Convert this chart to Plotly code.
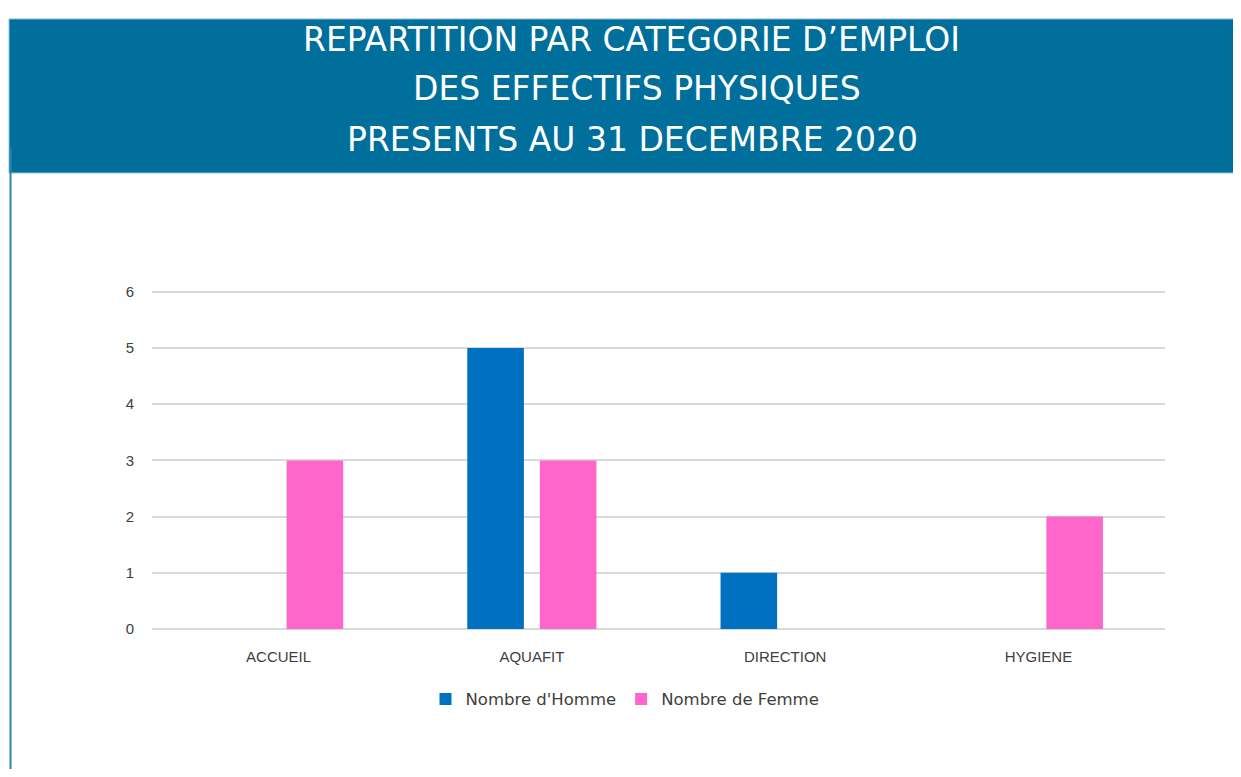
import plotly.graph_objects as go

categories = ["ACCUEIL", "AQUAFIT", "DIRECTION", "HYGIENE"]
hommes = [0, 5, 1, 0]
femmes = [3, 3, 0, 2]
title_lines = ["REPARTITION PAR CATEGORIE D\u2019EMPLOI",
               "DES EFFECTIFS PHYSIQUES",
               "PRESENTS AU 31 DECEMBRE 2020"]
y_ticks = [0, 1, 2, 3, 4, 5, 6]

# the page body has an 8px margin; size the figure so the page does not overflow
M = 8
W, H = 1241 - 2 * M, 777 - 2 * M

fig = go.Figure()
fig.add_trace(go.Bar(x=categories, y=hommes, name="Nombre d'Homme",
                     marker=dict(color="#0070c0", line=dict(width=0))))
fig.add_trace(go.Bar(x=categories, y=femmes, name="Nombre de Femme",
                     marker=dict(color="#ff66cc", line=dict(width=0))))


def px_x(v):
    return (v - M) / W


def px_y(v):
    return 1 - (v - M) / H


shapes = [
    dict(type="rect", xref="paper", yref="paper",
         x0=px_x(9), x1=1.02, y0=px_y(170), y1=px_y(13),
         fillcolor="#006f9b", line=dict(color="#9cc3d6", width=1), layer="below"),
    dict(type="line", xref="paper", yref="paper",
         x0=px_x(10.5), x1=px_x(10.5), y0=-0.02, y1=px_y(145),
         line=dict(color="#2a86b0", width=2)),
]

annotations = []
for t, cx, cy in zip(title_lines, [631, 637, 632], [34, 84, 135.5]):
    annotations.append(dict(
        text=t, xref="paper", yref="paper",
        x=px_x(cx), y=px_y(cy), xanchor="center", yanchor="middle",
        showarrow=False,
        font=dict(family="DejaVu Sans", size=33, color="#ffffff")))

y0_px, y6_px = 634.5, 291
unit = (y0_px - y6_px) / 6
ytop = 6.05
fig.update_layout(
    width=W, height=H,
    margin=dict(l=0, r=0, t=0, b=0),
    paper_bgcolor="#ffffff",
    plot_bgcolor="#ffffff",
    barmode="group",
    bargap=0.427,
    bargroupgap=0.22,
    shapes=shapes,
    annotations=annotations,
    showlegend=True,
    legend=dict(orientation="h", x=px_x(625), xanchor="center",
                y=px_y(706), yanchor="middle",
                font=dict(family="DejaVu Sans", size=16.5, color="#404040"),
                itemwidth=30, traceorder="normal"),
    xaxis=dict(domain=[px_x(152), px_x(1165)], showgrid=False,
               showline=False, zeroline=False, ticks="",
               tickfont=dict(family="Liberation Sans", size=15, color="#404040"),
               ticklabelstandoff=17),
    yaxis=dict(domain=[px_y(y0_px), px_y(y6_px - (ytop - 6) * unit)], range=[0, ytop],
               tickvals=y_ticks, showgrid=True, gridcolor="#d9d9d9", gridwidth=1.5,
               zeroline=True, zerolinecolor="#d9d9d9", zerolinewidth=1.5,
               showline=False, ticks="",
               tickfont=dict(family="Liberation Sans", size=15, color="#404040"),
               ticklabelstandoff=17),
    font=dict(family="Liberation Sans"),
)

fig.write_html("out.html")
